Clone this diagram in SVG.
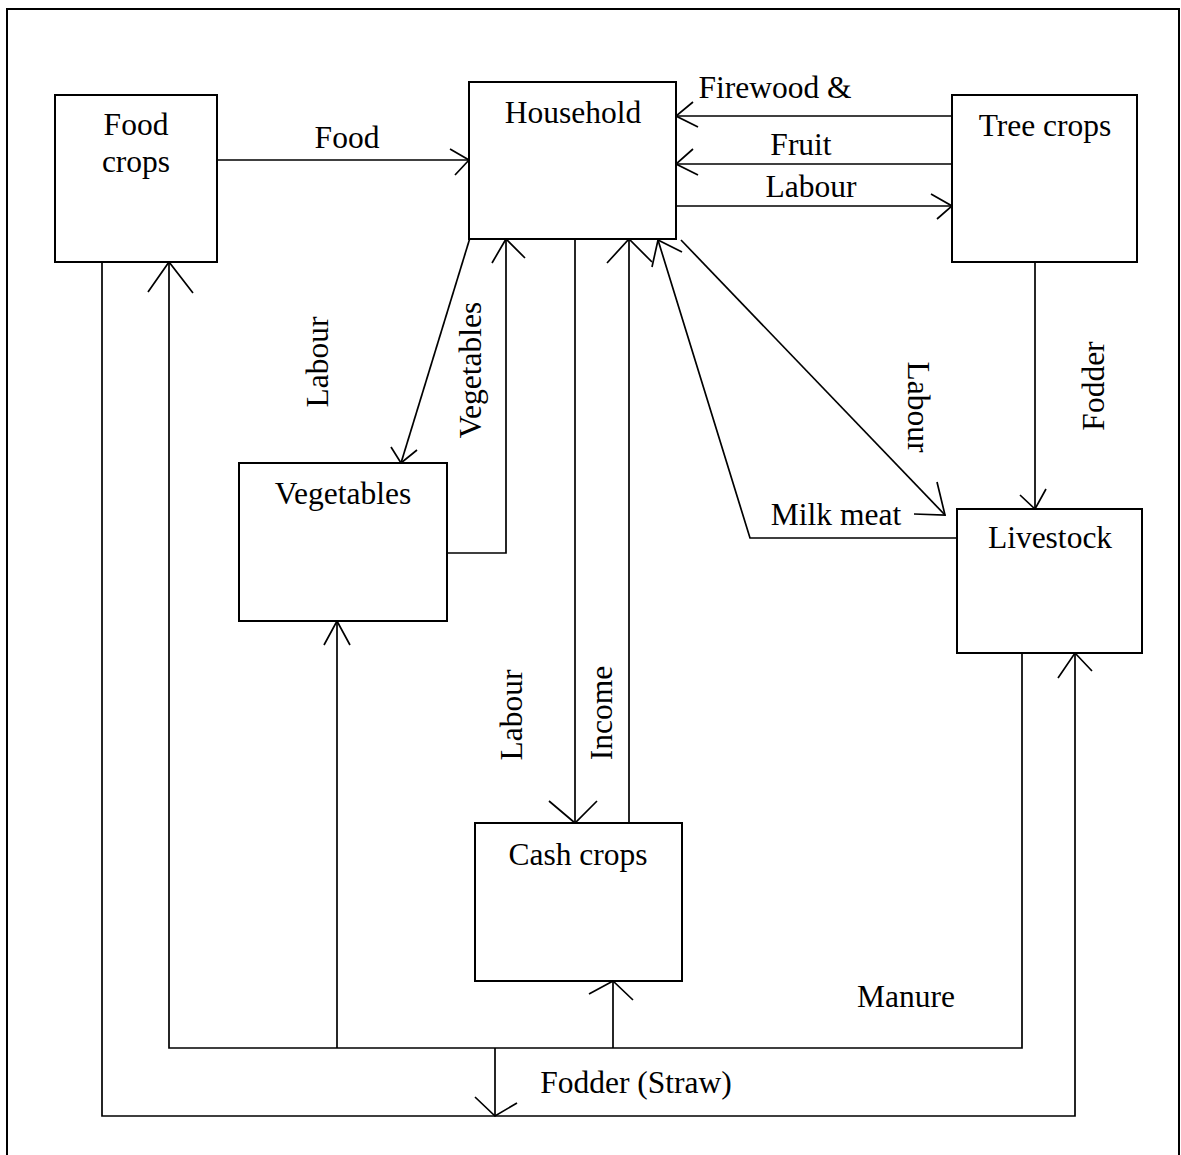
<svg xmlns="http://www.w3.org/2000/svg" width="1181" height="1155" viewBox="0 0 1181 1155">
<style>
.bg{fill:#fff}
.frame{fill:none;stroke:#000;stroke-width:2}
.box{fill:#fff;stroke:#000;stroke-width:2}
.ln{fill:none;stroke:#000;stroke-width:1.7}
.ah{fill:none;stroke:#000;stroke-width:1.7}
text{font-family:"Liberation Serif","Times New Roman",serif;font-size:31.5px;fill:#000;text-anchor:middle}
</style>
<rect class="bg" x="0" y="0" width="1181" height="1155"/>
<path class="frame" d="M7,1155 V9 H1179 V1155"/>
<g id="connectors">
<path class="ln" d="M217,160 H469"/>
<polyline class="ah" points="450,149 469,160 455,175"/>
<text x="347" y="148">Food</text>
<path class="ln" d="M952,116 H676"/>
<polyline class="ah" points="693,102 676,116 698,127"/>
<text x="775" y="98">Firewood &amp;</text>
<path class="ln" d="M952,164 H676"/>
<polyline class="ah" points="693,149 676,164 698,175"/>
<text x="801" y="155">Fruit</text>
<path class="ln" d="M676,206 H952"/>
<polyline class="ah" points="931,194 952,206 937,219"/>
<text x="811" y="197">Labour</text>
<path class="ln" d="M1035,262 V509"/>
<polyline class="ah" points="1020,495 1035,509 1046,489"/>
<text transform="rotate(-90 1104 386)" x="1104" y="386">Fodder</text>
<path class="ln" d="M681,240 L945,515"/>
<polyline class="ah" points="937,482 945,515 914,514"/>
<text transform="rotate(90 908 407)" x="908" y="407">Labour</text>
<path class="ln" d="M957,538 H750 L658,240"/>
<polyline class="ah" points="652,267 658,240 682,252"/>
<text x="836" y="525">Milk meat</text>
<path class="ln" d="M629,823 V239"/>
<polyline class="ah" points="607,263 629,239 652,262"/>
<text transform="rotate(-90 612 713)" x="612" y="713">Income</text>
<path class="ln" d="M575,239 V823"/>
<polyline class="ah" points="549,801 575,823 597,801"/>
<text transform="rotate(-90 522 715)" x="522" y="715">Labour</text>
<path class="ln" d="M473,228 L401,463"/>
<polyline class="ah" points="391,447 401,463 417,450"/>
<text transform="rotate(-90 328 362)" x="328" y="362">Labour</text>
<path class="ln" d="M447,553 H506 V239"/>
<polyline class="ah" points="492,263 506,239 525,258"/>
<text transform="rotate(-90 481 370)" x="481" y="370">Vegetables</text>
<path class="ln" d="M1022,653 V1048 H169 V262"/>
<polyline class="ah" points="148,292 169,262 193,293"/>
<path class="ln" d="M337,1048 V621"/>
<polyline class="ah" points="324,645 337,621 350,645"/>
<path class="ln" d="M613,1048 V981"/>
<polyline class="ah" points="589,994 613,981 633,1000"/>
<text x="906" y="1007">Manure</text>
<path class="ln" d="M495,1048 V1116"/>
<polyline class="ah" points="475,1097 495,1116 517,1103"/>
<path class="ln" d="M102,262 V1116 H1075 V653"/>
<polyline class="ah" points="1058,678 1075,653 1092,671"/>
<text x="636" y="1093">Fodder (Straw)</text>
</g>
<g id="food-crops">
<rect class="box" x="55" y="95" width="162" height="167"/>
<text x="136" y="135">Food</text>
<text x="136" y="172">crops</text>
</g>
<g id="household">
<rect class="box" x="469" y="82" width="207" height="157"/>
<text x="573" y="123">Household</text>
</g>
<g id="tree-crops">
<rect class="box" x="952" y="95" width="185" height="167"/>
<text x="1045" y="136">Tree crops</text>
</g>
<g id="vegetables">
<rect class="box" x="239" y="463" width="208" height="158"/>
<text x="343" y="504">Vegetables</text>
</g>
<g id="livestock">
<rect class="box" x="957" y="509" width="185" height="144"/>
<text x="1050" y="548">Livestock</text>
</g>
<g id="cash-crops">
<rect class="box" x="475" y="823" width="207" height="158"/>
<text x="578" y="865">Cash crops</text>
</g>
</svg>
